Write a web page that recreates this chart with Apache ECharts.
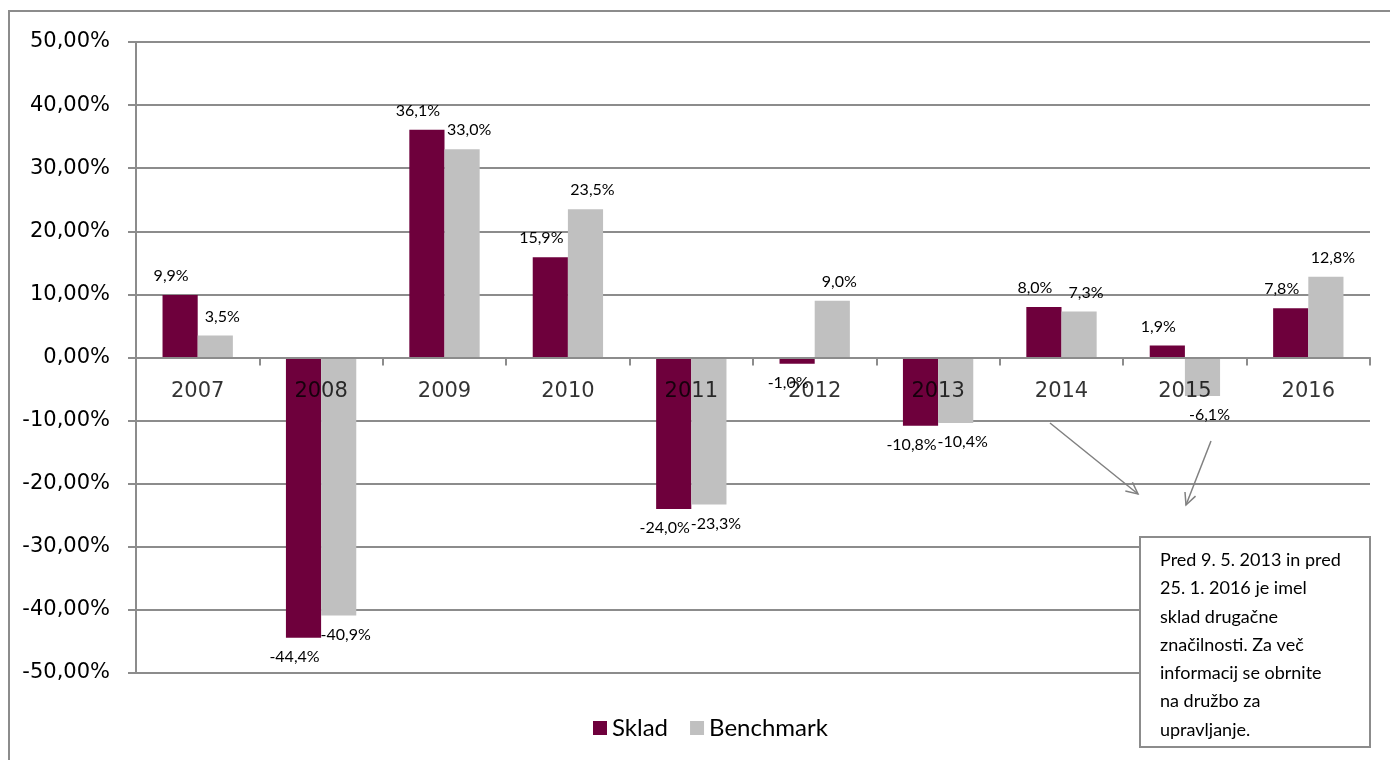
<!DOCTYPE html>
<html><head><meta charset="utf-8">
<script src="https://cdn.jsdelivr.net/npm/echarts@6/dist/echarts.min.js"></script>
<style>html,body{margin:0;padding:0;background:#fff}#c{width:1390px;height:760px}</style>
</head><body><div id="c"></div>
<script>
const categories = ['2007','2008','2009','2010','2011','2012','2013','2014','2015','2016'];
const skladValues = [9.9, -44.4, 36.1, 15.9, -24.0, -1.0, -10.8, 8.0, 1.9, 7.8];
const benchmarkValues = [3.5, -40.9, 33.0, 23.5, -23.3, 9.0, -10.4, 7.3, -6.1, 12.8];
const yTicks = {min: -50, max: 50, interval: 10};
const noteText = ['Pred 9. 5. 2013 in pred','25. 1. 2016 je imel','sklad drugačne','značilnosti. Za več','informacij se obrnite','na družbo za','upravljanje.'];

const GRAY = '#8c8c8c';
function toData(arr){
  return arr.map(v => ({value: v, label: {position: v < 0 ? 'bottom' : 'top'}}));
}
function fmt(v){ return v.toFixed(1).replace('.', ',') + '%'; }

function arrow(x1,y1,x2,y2){
  const a = Math.atan2(y2-y1, x2-x1), L = 13, w = 0.45;
  return [
    {type:'line', z:100, shape:{x1,y1,x2,y2}, style:{stroke:'#808080', lineWidth:1.5}},
    {type:'polyline', z:100, shape:{points:[[x2-L*Math.cos(a-w), y2-L*Math.sin(a-w)],[x2,y2],[x2-L*Math.cos(a+w), y2-L*Math.sin(a+w)]]}, style:{stroke:'#808080', lineWidth:1.5, fill:null}}
  ];
}

const chart = echarts.init(document.getElementById('c'));
const baseLabel = {show:true, distance:11, fontFamily:'Lato', fontSize:16, color:'#000', formatter: p => fmt(p.value)};
chart.setOption({
  animation:false,
  grid:{left:136, right:20, top:42, bottom:87, containLabel:false},
  legend:{data:['Sklad','Benchmark'], left:588, top:711, icon:'rect', itemWidth:14, itemHeight:14, itemGap:22,
    textStyle:{fontFamily:'Lato', fontSize:24, color:'#000'}},
  xAxis:{type:'category', data:categories, z:10,
    axisLine:{onZero:true, lineStyle:{color:GRAY, width:2}},
    axisTick:{show:true, length:8, lineStyle:{color:GRAY, width:2}},
    axisLabel:{show:false}},
  yAxis:{type:'value', min:yTicks.min, max:yTicks.max, interval:yTicks.interval,
    axisLine:{show:true, lineStyle:{color:GRAY, width:2}},
    axisTick:{show:true, length:8, lineStyle:{color:GRAY, width:2}},
    splitLine:{lineStyle:{color:GRAY, width:2}},
    axisLabel:{margin:26, fontFamily:'DejaVu Sans', fontSize:21, color:'#000',
      formatter: v => v.toFixed(2).replace('.', ',') + '%'}},
  series:[
    {name:'Sklad', type:'bar', data:toData(skladValues), barGap:'0%', barCategoryGap:'43%',
      itemStyle:{color:'#6E003C'}, label:Object.assign({}, baseLabel, {offset:[-9,0]})},
    {name:'Benchmark', type:'bar', data:toData(benchmarkValues), barGap:'0%', barCategoryGap:'43%',
      itemStyle:{color:'#C0C0C0'}, label:Object.assign({}, baseLabel, {offset:[7,0]})},
    {name:'categoryLabels', type:'scatter', z:20, silent:true, symbolSize:0,
      data:categories.map(c => [c, 0]),
      label:{show:true, position:'bottom', distance:24, fontFamily:'DejaVu Sans', fontSize:21, color:'#000',
        formatter: p => p.value[0]}}
  ],
  graphic:[
    {type:'rect', z:-1, silent:true, shape:{x:9, y:11, width:1400, height:800}, style:{fill:null, stroke:GRAY, lineWidth:2}},
    {type:'rect', z:100, shape:{x:1140, y:537, width:230, height:210}, style:{fill:'#fff', stroke:GRAY, lineWidth:2}},
    {type:'text', z:101, left:1160, top:546, style:{text:noteText.join('\n'), fontFamily:'Lato', fontSize:18, lineHeight:28.3, fill:'#000'}},
    ...arrow(1050,423,1138,494),
    ...arrow(1211,441,1186,505)
  ]
});
</script></body></html>
